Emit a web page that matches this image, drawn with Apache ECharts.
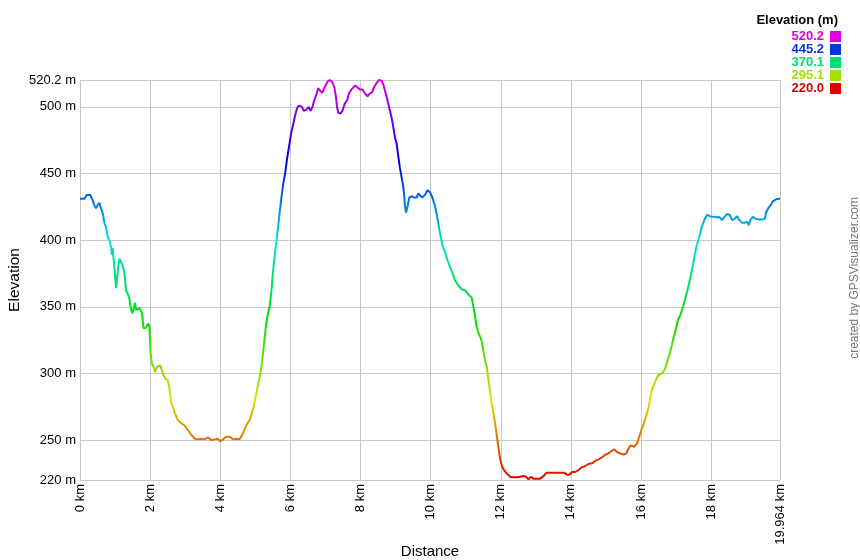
<!DOCTYPE html>
<html>
<head>
<meta charset="utf-8">
<script src="https://cdn.jsdelivr.net/npm/echarts@6/dist/echarts.min.js"></script>
<style>
  html, body { margin: 0; padding: 0; background: #fff; }
  #chart { width: 860px; height: 560px; }
</style>
</head>
<body>
<div id="chart"></div>
<script>
// Distance along track (km)
const distanceKm = [
  0, 0.12, 0.19, 0.29, 0.36, 0.41, 0.46, 0.5, 0.55, 0.6, 0.65, 0.7, 0.74, 0.79, 0.84, 0.89, 0.91, 0.93, 0.96, 0.98,
  1.01, 1.03, 1.06, 1.09, 1.12, 1.17, 1.22, 1.27, 1.31, 1.36, 1.41, 1.44, 1.49, 1.52, 1.57, 1.6, 1.65, 1.7, 1.74, 1.77,
  1.81, 1.87, 1.91, 1.95, 1.98, 2.01, 2.05, 2.1, 2.14, 2.17, 2.2, 2.25, 2.29, 2.33, 2.38, 2.43, 2.5, 2.55, 2.6, 2.65,
  2.71, 2.79, 2.89, 2.98, 3.08, 3.17, 3.27, 3.36, 3.46, 3.55, 3.65, 3.74, 3.84, 3.93, 4.0, 4.08, 4.17, 4.27, 4.36, 4.46,
  4.55, 4.65, 4.74, 4.84, 4.9, 4.96, 5.03, 5.1, 5.15, 5.22, 5.3, 5.36, 5.41, 5.46, 5.5, 5.55, 5.6, 5.65, 5.7, 5.75,
  5.8, 5.85, 5.9, 5.96, 6.02, 6.08, 6.13, 6.19, 6.24, 6.29, 6.33, 6.38, 6.46, 6.52, 6.57, 6.63, 6.68, 6.74, 6.79, 6.84,
  6.91, 6.98, 7.06, 7.12, 7.19, 7.25, 7.3, 7.33, 7.37, 7.43, 7.49, 7.55, 7.62, 7.67, 7.74, 7.84, 7.9, 7.98, 8.06, 8.13,
  8.2, 8.26, 8.33, 8.39, 8.46, 8.53, 8.61, 8.67, 8.72, 8.79, 8.86, 8.92, 8.98, 9.03, 9.08, 9.12, 9.17, 9.22, 9.25, 9.27,
  9.3, 9.34, 9.39, 9.46, 9.52, 9.6, 9.65, 9.69, 9.76, 9.84, 9.91, 9.98, 10.05, 10.12, 10.17, 10.22, 10.27, 10.34, 10.41, 10.48,
  10.55, 10.63, 10.69, 10.79, 10.89, 10.98, 11.08, 11.17, 11.22, 11.27, 11.31, 11.36, 11.41, 11.46, 11.5, 11.55, 11.6, 11.65, 11.7, 11.74,
  11.79, 11.84, 11.89, 11.93, 11.98, 12.03, 12.09, 12.17, 12.26, 12.36, 12.46, 12.55, 12.65, 12.72, 12.79, 12.86, 12.93, 13.03, 13.12, 13.22,
  13.31, 13.46, 13.69, 13.81, 13.89, 13.96, 14.03, 14.12, 14.22, 14.31, 14.41, 14.5, 14.6, 14.7, 14.79, 14.89, 14.98, 15.07, 15.17, 15.24,
  15.31, 15.41, 15.5, 15.58, 15.65, 15.7, 15.74, 15.81, 15.89, 15.93, 15.98, 16.03, 16.08, 16.12, 16.17, 16.22, 16.27, 16.31, 16.36, 16.41,
  16.46, 16.5, 16.55, 16.6, 16.67, 16.72, 16.76, 16.82, 16.87, 16.91, 16.96, 17.01, 17.05, 17.1, 17.15, 17.2, 17.25, 17.3, 17.34, 17.39,
  17.44, 17.49, 17.53, 17.58, 17.63, 17.68, 17.72, 17.77, 17.82, 17.89, 17.96, 18.03, 18.11, 18.17, 18.23, 18.31, 18.38, 18.45, 18.53, 18.6,
  18.67, 18.74, 18.81, 18.88, 18.96, 19.03, 19.07, 19.12, 19.19, 19.27, 19.36, 19.46, 19.53, 19.57, 19.63, 19.69, 19.76, 19.84, 19.9, 19.964
];
// Elevation (m)
const elevationM = [
  431, 431, 433.8, 434, 430, 426, 424, 426, 428, 424, 420, 412.5, 410, 402.5, 400, 394, 389, 394, 394, 380,
  370, 364, 365, 380, 386, 385, 381, 375, 362.5, 360, 356, 350, 345, 347.5, 353, 347.5, 347, 349, 349, 345,
  334, 334, 332.5, 337.5, 335, 316, 307.5, 305, 301, 300, 305, 304, 306, 302.5, 299, 296, 295, 289, 277.5, 275,
  270, 265, 262.5, 261, 257.5, 254, 251, 250.5, 251, 250.5, 252, 250, 250.5, 251, 249, 250.5, 252.5, 252.5, 250.5, 251,
  250.5, 255, 261, 265, 270, 276, 285, 295, 300, 315, 335, 345, 350, 362, 375, 388, 398, 410, 422, 433,
  443, 450, 460, 470, 480, 487, 493, 499, 501, 500.5, 500, 497, 498, 500, 497, 500, 505, 509, 514, 514.5,
  510.5, 515, 519, 520.2, 519, 515, 507.5, 500, 495.5, 495, 497.5, 502.5, 505, 510, 513, 516, 515, 513, 513, 510,
  508, 510, 511, 515, 518, 520.2, 519.5, 515, 510, 502.5, 495, 487.5, 477.5, 472.5, 462.5, 455, 447.5, 440, 432.5, 425,
  420.5, 425, 432, 433, 432, 432, 435, 435.5, 432, 434, 437.5, 436, 432, 426, 420, 412.5, 405, 396, 391, 385,
  380, 375, 370, 366, 363, 362.5, 359, 357, 350, 342.5, 335, 331, 327.5, 324, 317.5, 310, 305, 295, 285, 277.5,
  270, 262.5, 252.5, 245, 236, 231, 227.5, 225, 222.5, 222, 222, 222.5, 223, 222.5, 220.5, 222.5, 221, 221, 221, 223,
  225.5, 225.5, 225.5, 225.5, 224, 224, 226, 226, 227.5, 229.5, 230.5, 232, 232.5, 234.5, 235.5, 237, 239, 240, 242, 243,
  241, 240, 239, 240, 244, 246, 244.5, 245, 247.5, 251, 255, 259, 262.5, 266, 270, 275, 282.5, 287.5, 291, 294,
  297, 299, 299, 300, 302.5, 306, 310, 315, 320, 325, 330, 335, 340, 342.5, 346, 350, 355, 360, 364, 370,
  376, 382.5, 389, 395, 400, 404, 409, 412.5, 416, 419, 418, 417.5, 417.5, 417, 417.5, 415, 417.5, 419.5, 419, 415,
  416, 418, 415, 413, 413, 414, 411, 415, 417.5, 416, 415.5, 415.5, 416, 421, 424, 426, 429, 430.5, 431, 431
];
// Axis tick values
const xTicks = [0, 2, 4, 6, 8, 10, 12, 14, 16, 18, 19.964];
const yTicks = [220, 250, 300, 350, 400, 450, 500, 520.2];
// Colour legend
const legendValues = ['520.2', '445.2', '370.1', '295.1', '220.0'];
const legendColors = ['#e000e0', '#0038e0', '#00e070', '#a8e000', '#e00000'];
// Elevation colour ramp (low -> high)
const rampColors = ['#e00000', '#e07000', '#e0e000', '#70e000', '#00e000', '#00e070',
                    '#00e0e0', '#0070e0', '#0000e0', '#7000e0', '#e000e0'];

const FONT = '"Liberation Sans", Arial, sans-serif';
const chart = echarts.init(document.getElementById('chart'), null, { renderer: 'canvas' });

const points = distanceKm.map((d, i) => [d, elevationM[i]]);

const legendGraphics = [{
  type: 'text', right: 22, top: 14,
  style: { text: 'Elevation (m)', font: 'bold 13px ' + FONT, fill: '#000' }
}];
legendValues.forEach((v, i) => {
  legendGraphics.push({
    type: 'text', right: 36, top: 30 + i * 13,
    style: { text: v, font: 'bold 13px ' + FONT, fill: legendColors[i] }
  });
  legendGraphics.push({
    type: 'rect', right: 19, top: 31 + i * 13,
    shape: { width: 11, height: 11 },
    style: { fill: legendColors[i] }
  });
});
legendGraphics.push({
  type: 'text', left: 849, top: 197, rotation: Math.PI / 2, originX: 0, originY: 0,
  style: { text: 'created by GPSVisualizer.com', font: '12px ' + FONT, fill: '#777' }
});

chart.setOption({
  animation: false,
  backgroundColor: '#fff',
  grid: { left: 80, right: 80, top: 80, bottom: 80, containLabel: false, outerBoundsMode: 'none' },
  visualMap: {
    show: false, type: 'continuous', dimension: 1,
    min: 220, max: 520.2, inRange: { color: rampColors }
  },
  xAxis: {
    type: 'value', min: 0, max: 19.964,
    name: 'Distance', nameLocation: 'middle', nameGap: 64, nameMoveOverlap: false,
    nameTextStyle: { fontFamily: FONT, fontSize: 15, color: '#000' },
    axisLine: { show: false },
    axisTick: { show: false, customValues: xTicks },
    axisLabel: {
      customValues: xTicks, rotate: 90, margin: 4,
      fontFamily: FONT, fontSize: 13, color: '#000',
      formatter: v => v + ' km'
    },
    splitLine: { show: true, lineStyle: { color: '#c8c8c8', width: 1 } }
  },
  yAxis: {
    type: 'value', min: 220, max: 520.2,
    name: 'Elevation', nameLocation: 'middle', nameGap: 57, nameMoveOverlap: false,
    nameTextStyle: { fontFamily: FONT, fontSize: 15.5, color: '#000' },
    axisLine: { show: false },
    axisTick: { show: false, customValues: yTicks },
    axisLabel: {
      customValues: yTicks, margin: 4,
      fontFamily: FONT, fontSize: 13, color: '#000',
      formatter: v => v + ' m'
    },
    splitLine: { show: true, lineStyle: { color: '#c8c8c8', width: 1 } }
  },
  series: [{
    type: 'line', data: points, showSymbol: false, smooth: false,
    lineStyle: { width: 2 }
  }],
  graphic: legendGraphics
});
</script>
</body>
</html>
